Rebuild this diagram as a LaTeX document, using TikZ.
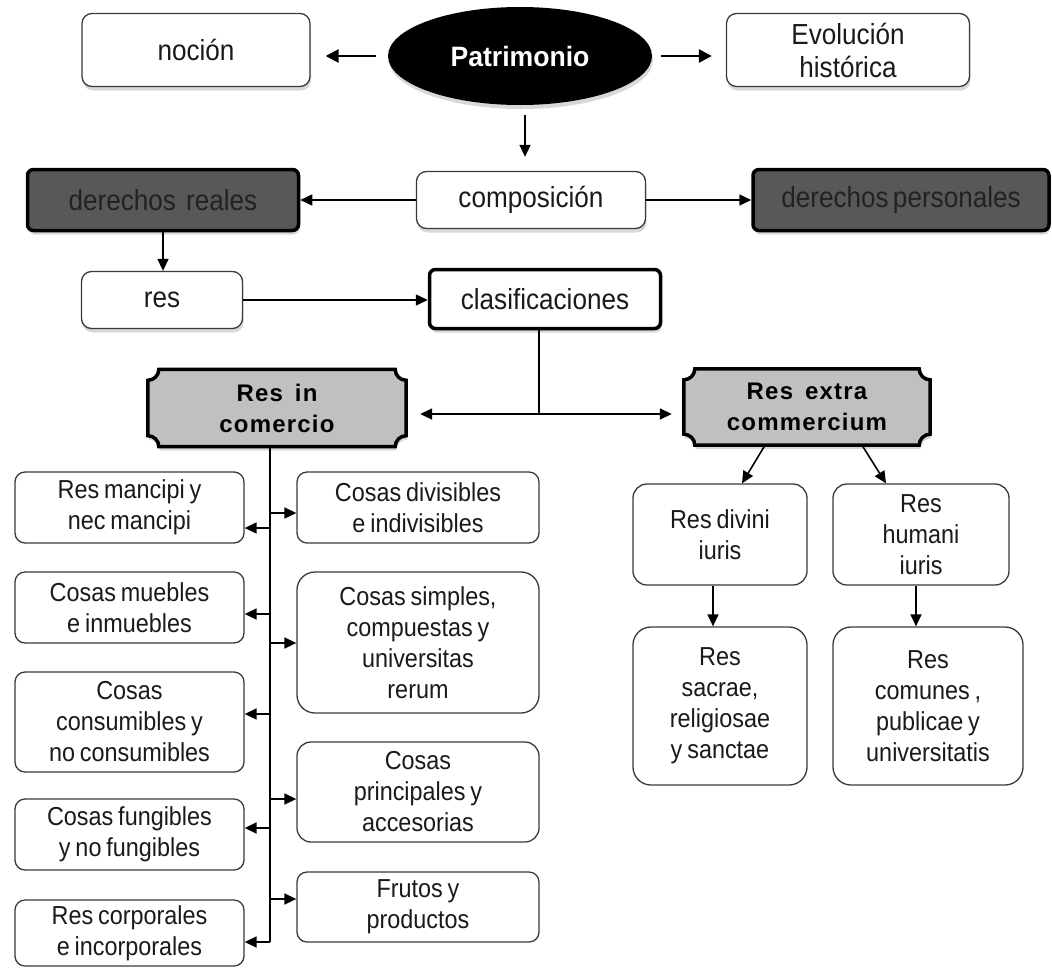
\documentclass[tikz,border=0pt]{standalone}
\usepackage{fontspec}
\setmainfont{Liberation Sans}[WordSpace=0.75,FakeStretch=0.9]
\newfontfamily\plqfont{Liberation Sans}[LetterSpace=5,WordSpace=1.2]
\newfontfamily\patrfont{Liberation Sans}[FakeStretch=0.95]
\usetikzlibrary{arrows.meta,shapes.geometric,shadows,backgrounds,calc}
\definecolor{boxline}{HTML}{3A3A3A}
\definecolor{txt}{HTML}{1A1A1A}
\definecolor{darkfill}{HTML}{585858}
\definecolor{darktxt}{HTML}{222222}
\definecolor{plqfill}{HTML}{C0C0C0}
\newcommand\plaquepath[2]{%
  \path[plq] ([xshift=#2]#1.north west) -- ([xshift=-#2]#1.north east)
    arc[start angle=180,end angle=270,radius=#2] -- ([yshift=#2]#1.south east)
    arc[start angle=90,end angle=180,radius=#2] -- ([xshift=#2]#1.south west)
    arc[start angle=0,end angle=90,radius=#2] -- ([yshift=-#2]#1.north west)
    arc[start angle=270,end angle=360,radius=#2] -- cycle;}
\begin{document}
\begin{tikzpicture}[x=1pt,y=1pt,
  shadowed/.style={drop shadow={shadow xshift=1pt,shadow yshift=-4pt,opacity=0.3}},
  box/.style={draw=boxline, line width=1.3pt, rounded corners=10pt, fill=white, align=center,
    inner sep=0pt, text=txt, font=\fontsize{26}{31}\selectfont},
  bigtext/.style={font=\fontsize{29}{33}\selectfont},
  darkbox/.style={draw=black, line width=3.5pt, rounded corners=6pt, fill=darkfill, text=darktxt,
    align=center, inner sep=0pt, font=\fontsize{29}{33}\selectfont, shadowed},
  plqtext/.style={align=center, inner sep=0pt, text=black, font=\plqfont\bfseries\fontsize{24}{31}\selectfont},
  plq/.style={draw=black, line width=3.5pt, fill=plqfill, shadowed},
  line/.style={line width=1.6pt, draw=black},
  arr/.style={line width=1.6pt, -{Triangle[length=12pt,width=11pt]}},
  arrT/.style={line width=2.6pt, -{Triangle[length=13pt,width=13pt]}}
]
\begin{scope}[on background layer]
  \fill[white] (0,0) rectangle (1052,-967);
\end{scope}
\useasboundingbox (0,0) rectangle (1052,-967);

% top row
\node[box, bigtext, shadowed, minimum width=228pt, minimum height=73pt] (nocion) at (196,-50) {noción};
\node[ellipse, fill=black, minimum width=264pt, minimum height=98pt, inner sep=0pt, text=white,
  font=\patrfont\fontsize{28}{30}\selectfont\bfseries, shadowed] (patr) at (520,-56) {Patrimonio};
\node[box, bigtext, shadowed, minimum width=243pt, minimum height=73pt] (evol) at (848,-50) {Evolución\\histórica};

% second row
\node[box, bigtext, shadowed, minimum width=229pt, minimum height=57pt] (comp) at (531,-200) {composición};
\node[darkbox, minimum width=271pt, minimum height=61pt] (dreal) at (163,-200) {derechos\hspace{0.35em}reales};
\node[darkbox, minimum width=296pt, minimum height=61pt] (dpers) at (901,-200) {derechos\hspace{0.15em}personales};

% third row
\node[box, bigtext, shadowed, minimum width=161pt, minimum height=57pt] (res) at (162,-300) {res};
\node[box, bigtext, shadowed, draw=black, line width=3.5pt, rounded corners=6pt, minimum width=231pt, minimum height=59pt] (clasif) at (545,-299) {clasificaciones};

% plaques
\node[plqtext, minimum width=258pt, minimum height=77pt] (rinc) at (277,-408) {Res\hspace{0.5em}in\\comercio};
\node[plqtext, minimum width=246pt, minimum height=76pt] (rext) at (807,-407) {Res\hspace{0.5em}extra\\commercium};
\begin{scope}[on background layer]
  \plaquepath{rinc}{11pt}
  \plaquepath{rext}{11pt}
\end{scope}

% left column
\node[box, minimum width=229pt, minimum height=71pt] (L1) at (129.5,-507.5) {Res mancipi y\\nec mancipi};
\node[box, minimum width=229pt, minimum height=71pt] (L2) at (129.5,-607.5) {Cosas muebles\\e inmuebles};
\node[box, minimum width=229pt, minimum height=100pt] (L3) at (129.5,-722) {Cosas\\consumibles y\\no consumibles};
\node[box, minimum width=229pt, minimum height=71pt] (L4) at (129.5,-834.5) {Cosas fungibles\\y no fungibles};
\node[box, minimum width=229pt, minimum height=66pt] (L5) at (129.5,-933) {Res corporales\\e incorporales};

% right column
\node[box, minimum width=242pt, minimum height=71pt] (R1) at (418,-507.5) {Cosas divisibles\\e indivisibles};
\node[box, rounded corners=18pt, minimum width=242pt, minimum height=141pt] (R2) at (418,-642.5) {Cosas simples,\\compuestas y\\universitas\\rerum};
\node[box, rounded corners=14pt, minimum width=242pt, minimum height=100pt] (R3) at (418,-792) {Cosas\\principales y\\accesorias};
\node[box, minimum width=242pt, minimum height=70pt] (R4) at (418,-907) {Frutos y\\productos};

% extra commercium branch
\node[box, rounded corners=14pt, minimum width=174pt, minimum height=101pt] (rdiv) at (720,-534.5) {Res divini\\iuris};
\node[box, rounded corners=14pt, minimum width=176pt, minimum height=101pt] (rhum) at (921,-534.5) {Res\\humani\\iuris};
\node[box, rounded corners=18pt, minimum width=174pt, minimum height=158pt] (rsac) at (720,-706) {Res\\sacrae,\\religiosae\\y sanctae};
\node[box, rounded corners=18pt, minimum width=190pt, minimum height=158pt] (rcom) at (928,-706) {Res\\comunes ,\\publicae y\\universitatis};

% connectors top
\draw[arrT] ([xshift=-12pt]patr.west) -- ([xshift=15pt]nocion.east |- patr.west);
\draw[arrT] ([xshift=9pt]patr.east) -- ([xshift=-14pt]evol.west |- patr.east);
\draw[arr] ([xshift=5pt,yshift=-10pt]patr.south) -- ([xshift=-6pt,yshift=14pt]comp.north);
\draw[arr] (comp.west) -- (dreal.east);
\draw[arr] (comp.east) -- (dpers.west);
\draw[arr] (dreal.south) -- (res.north -| dreal.south);
\draw[arr] (res.east) -- (clasif.west |- res.east);

% clasificaciones split
\coordinate (j) at (539,-414);
\draw[line] (clasif.south -| j) -- (j);
\draw[arr] (j) -- ([xshift=14pt]rinc.east |- j);
\draw[arr] (j) -- ([xshift=-12pt]rext.west |- j);

% trunk
\coordinate (tbot) at (270,-942);
\draw[line] (rinc.south -| tbot) -- (tbot);
\draw[arr] (tbot) -- (tbot -| L5.east);
\coordinate (tl1) at (270,-528);
\coordinate (tl2) at (270,-614);
\coordinate (tl3) at (270,-714);
\coordinate (tl4) at (270,-828);
\draw[arr] (tl1) -- (tl1 -| L1.east);
\draw[arr] (tl2) -- (tl2 -| L2.east);
\draw[arr] (tl3) -- (tl3 -| L3.east);
\draw[arr] (tl4) -- (tl4 -| L4.east);
\coordinate (tr1) at (270,-513);
\coordinate (tr2) at (270,-643);
\coordinate (tr3) at (270,-799);
\coordinate (tr4) at (270,-899);
\draw[arr] (tr1) -- (tr1 -| R1.west);
\draw[arr] (tr2) -- (tr2 -| R2.west);
\draw[arr] (tr3) -- (tr3 -| R3.west);
\draw[arr] (tr4) -- (tr4 -| R4.west);

% extra commercium arrows
\draw[arr] ($(rext.south)+(-42,0)$) -- ($(rdiv.north)+(22,0)$);
\draw[arr] ($(rext.south)+(55,0)$) -- ($(rhum.north)+(-35,0)$);
\draw[arr] ($(rdiv.south)+(-7,0)$) -- ($(rsac.north)+(-7,0)$);
\draw[arr] ($(rhum.south)+(-5,0)$) -- ($(rcom.north)+(-12,0)$);
\end{tikzpicture}
\end{document}
